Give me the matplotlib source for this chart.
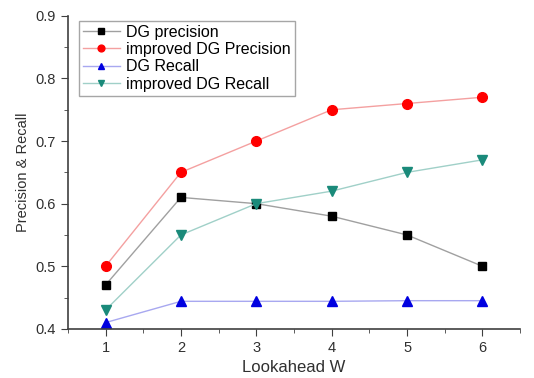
import matplotlib
matplotlib.use("Agg")
import matplotlib.pyplot as plt
from matplotlib.ticker import MultipleLocator

plt.rcParams['font.family'] = ['Liberation Sans', 'DejaVu Sans']

w = [1, 2, 3, 4, 5, 6]
dg_precision = [0.47, 0.61, 0.60, 0.58, 0.55, 0.50]
imp_precision = [0.50, 0.65, 0.70, 0.75, 0.76, 0.77]
dg_recall = [0.41, 0.444, 0.444, 0.444, 0.445, 0.445]
imp_recall = [0.43, 0.55, 0.60, 0.62, 0.65, 0.67]

fig = plt.figure(figsize=(5.34, 3.78), dpi=100)
ax = fig.add_axes([0.127, 0.130, 0.847, 0.828])

ax.plot(w, dg_precision, color='#a0a0a0', lw=1, marker='s', ms=6,
        mfc='black', mec='black', label='DG precision')
ax.plot(w, imp_precision, color='#f4a0a0', lw=1, marker='o', ms=7,
        mfc='red', mec='red', label='improved DG Precision')
ax.plot(w, dg_recall, color='#a8a8f0', lw=1, marker='^', ms=7,
        mfc='#0000e0', mec='#0000e0', label='DG Recall')
ax.plot(w, imp_recall, color='#a0d0c8', lw=1, marker='v', ms=7,
        mfc='#1a8a7a', mec='#1a8a7a', label='improved DG Recall')

ax.set_xlim(0.5, 6.5)
ax.set_ylim(0.4, 0.9)
ax.xaxis.set_major_locator(MultipleLocator(1))
ax.xaxis.set_minor_locator(MultipleLocator(0.5))
ax.yaxis.set_major_locator(MultipleLocator(0.1))
ax.yaxis.set_minor_locator(MultipleLocator(0.05))
ax.set_xticks(w)
ax.tick_params(which='both', direction='out', colors='#404040', labelcolor='#303030', labelsize=10.5)
ax.tick_params(which='major', length=5)
ax.tick_params(which='minor', length=3)
ax.spines['top'].set_visible(False)
ax.spines['right'].set_visible(False)
for s in ['left', 'bottom']:
    ax.spines[s].set_color('#404040')
    ax.spines[s].set_linewidth(1.2)

ax.set_xlabel('Lookahead W', fontsize=12, color='#303030', labelpad=4)
ax.set_ylabel('Precision & Recall', fontsize=10.5, color='#303030')

leg = ax.legend(loc='upper left', bbox_to_anchor=(0.025, 0.985), fontsize=11.5,
                frameon=True, fancybox=False, edgecolor='#909090',
                handlelength=2.3, borderpad=0.25, labelspacing=0.15,
                handletextpad=0.4, borderaxespad=0.0, markerscale=0.7)
leg.get_frame().set_linewidth(1)

fig.savefig('out.png', dpi=100)
